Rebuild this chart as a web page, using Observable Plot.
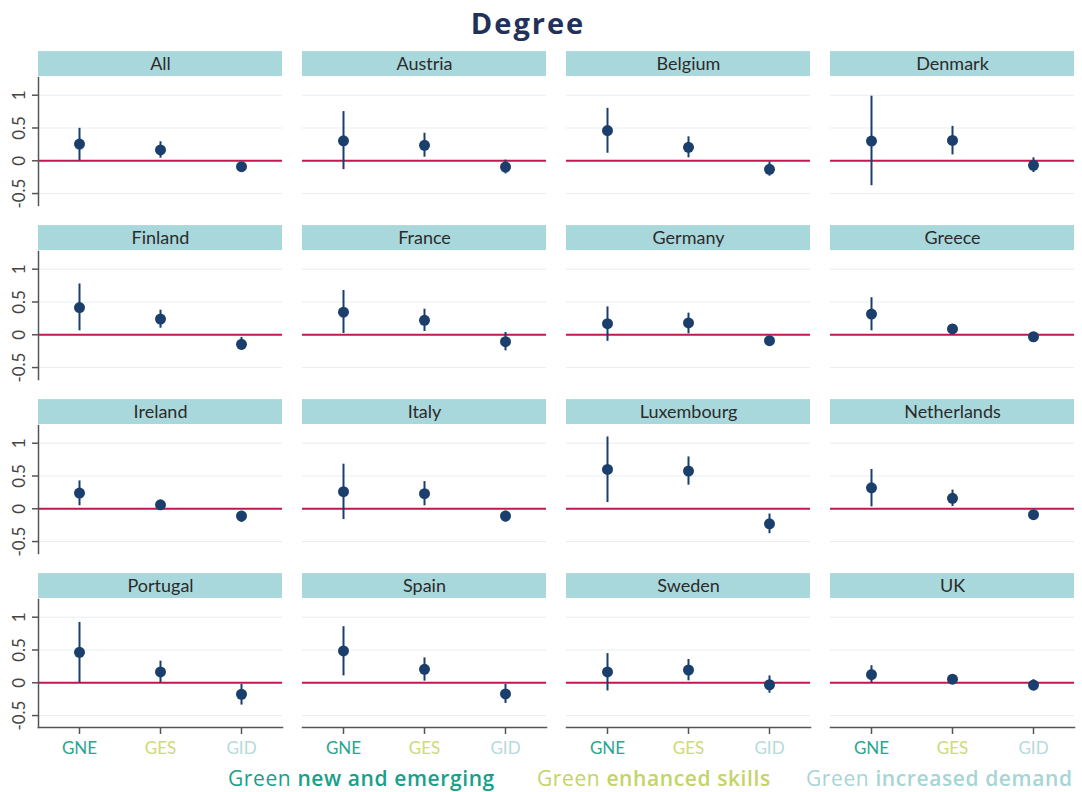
<!DOCTYPE html>
<html><head><meta charset="utf-8">
<script src="https://cdn.jsdelivr.net/npm/d3@7"></script>
<script src="https://cdn.jsdelivr.net/npm/@observablehq/plot@0.6"></script>
<style>
body{margin:0;background:#fff;font-family:Lato,"Open Sans",sans-serif;}
#title{height:40px;line-height:46px;text-align:center;font-family:"Open Sans",Lato,sans-serif;font-weight:700;font-size:29px;letter-spacing:2px;color:#22315a;padding-right:26px;box-sizing:border-box}
#legend{position:relative;height:27px;font-family:"Open Sans",Lato,sans-serif;font-size:21px;letter-spacing:0.6px}
#legend .item{position:absolute;top:0;white-space:nowrap;line-height:27px}
#legend b{font-weight:600}
</style></head><body>
<div id="title">Degree</div>
<div id="chart"></div>
<div id="legend">
  <span class="item" style="left:228px;color:#17a08a">Green <b>new and emerging</b></span>
  <span class="item" style="left:537px;color:#c3d467">Green <b>enhanced skills</b></span>
  <span class="item" style="left:806px;color:#a6d5d5">Green <b>increased demand</b></span>
</div>
<script>
const countries = ["All","Austria","Belgium","Denmark","Finland","France","Germany","Greece","Ireland","Italy","Luxembourg","Netherlands","Portugal","Spain","Sweden","UK"];
const categories = ["GNE","GES","GID"];
const catColors = {GNE:"#2aa590", GES:"#cbdb78", GID:"#b3dbdb"};

const estGNE = [0.255,0.305,0.46,0.30,0.415,0.345,0.17,0.315,0.24,0.26,0.60,0.32,0.465,0.485,0.165,0.125];
const loGNE  = [0.0,-0.135,0.115,-0.38,0.06,0.02,-0.10,0.06,0.045,-0.165,0.095,0.03,0.0,0.105,-0.125,0.0];
const hiGNE  = [0.495,0.75,0.80,0.985,0.775,0.675,0.425,0.565,0.425,0.68,1.095,0.60,0.92,0.855,0.445,0.26];

const estGES = [0.165,0.235,0.205,0.31,0.24,0.22,0.18,0.09,0.06,0.23,0.575,0.16,0.165,0.205,0.195,0.055];
const loGES  = [0.04,0.055,0.045,0.09,0.10,0.05,0.015,0.06,0.04,0.045,0.36,0.035,0.0,0.025,0.03,0.03];
const hiGES  = [0.29,0.42,0.365,0.525,0.375,0.39,0.33,0.12,0.08,0.415,0.79,0.285,0.33,0.38,0.355,0.08];

const estGID = [-0.09,-0.095,-0.13,-0.07,-0.145,-0.105,-0.09,-0.03,-0.11,-0.11,-0.23,-0.09,-0.175,-0.17,-0.03,-0.035];
const loGID  = [-0.14,-0.20,-0.235,-0.18,-0.24,-0.245,-0.12,-0.05,-0.21,-0.205,-0.38,-0.11,-0.34,-0.315,-0.16,-0.125];
const hiGID  = [-0.05,0.01,-0.02,0.045,-0.04,0.035,-0.06,-0.01,-0.04,-0.035,-0.08,-0.07,-0.025,-0.025,0.105,0.045];

const yTicks = [-0.5, 0, 0.5, 1];
const gridVals = [-0.5, 0.5, 1];

const series = {GNE:[estGNE,loGNE,hiGNE], GES:[estGES,loGES,hiGES], GID:[estGID,loGID,hiGID]};
const panels = countries.map((c,i) => ({country:c, col:i%4, row:Math.floor(i/4)}));
const data = [];
panels.forEach((p,i) => categories.forEach(cat => {
  const [e,l,h] = series[cat];
  data.push({...p, cat, est:e[i], lo:l[i], hi:h[i]});
}));

const navy = "#1b3f6c";
const axisGray = "#555";
const chart = Plot.plot({
  width: 1082, height: 725,
  marginLeft: 37, marginRight: 8, marginTop: 37, marginBottom: 38,
  style: {fontFamily: "Lato, 'Open Sans', sans-serif", fontSize: "17px", color: "#333", background: "#fff"},
  fx: {axis: null, domain: [0,1,2,3], paddingInner: 0.0768, paddingOuter: 0},
  fy: {axis: null, domain: [0,1,2,3], paddingInner: 0.2644, paddingOuter: 0},
  x: {type: "point", domain: categories, padding: 0.5, axis: null},
  y: {domain: [-0.682, 1.27], axis: null},
  marks: [
    Plot.barY(panels, {fx: "col", fy: "row", y1: 1.285, y2: 1.665, fill: "#a9d8dc"}),
    Plot.text(panels, {fx: "col", fy: "row", y: 1.475, text: "country", frameAnchor: "middle", fontSize: 18, fill: "#2b2b2b"}),
    Plot.ruleY(gridVals, {stroke: "#e9edf0", strokeWidth: 1}),
    Plot.ruleY([0], {stroke: "#c2174f", strokeWidth: 2}),
    Plot.frame({anchor: "left", fx: () => 0, stroke: axisGray, strokeWidth: 1.5}),
    Plot.frame({anchor: "bottom", fy: () => 3, stroke: axisGray, strokeWidth: 1.5}),
    Plot.axisY({ticks: yTicks, tickFormat: d => String(d), tickRotate: -90, tickSize: 6, tickPadding: 8,
      label: null, stroke: axisGray, fill: "#444", strokeWidth: 1.5, fontSize: 17}),
    Plot.axisX({tickSize: 7, tickPadding: 7, label: null, stroke: axisGray, strokeWidth: 1.5,
      fill: d => catColors[d], fontSize: 17}),
    Plot.ruleX(data, {fx: "col", fy: "row", x: "cat", y1: "lo", y2: "hi", stroke: navy, strokeWidth: 2}),
    Plot.dot(data, {fx: "col", fy: "row", x: "cat", y: "est", r: 5.5, fill: navy})
  ]
});
document.getElementById("chart").appendChild(chart);
</script>
</body></html>
